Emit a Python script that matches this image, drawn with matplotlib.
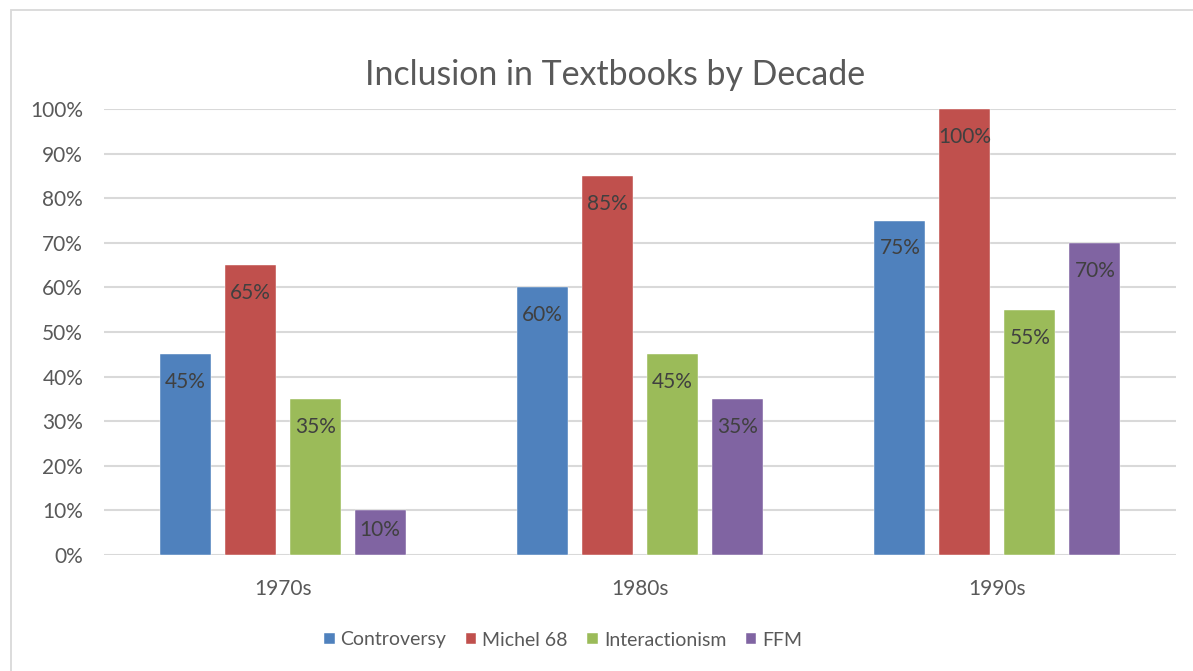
import matplotlib
matplotlib.use("Agg")
import matplotlib.pyplot as plt
from matplotlib.patches import Rectangle
import numpy as np

categories = ["1970s", "1980s", "1990s"]
series_names = ["Controversy", "Michel 68", "Interactionism", "FFM"]
controversy = [0.45, 0.60, 0.75]
michel68 = [0.65, 0.85, 1.00]
interactionism = [0.35, 0.45, 0.55]
ffm = [0.10, 0.35, 0.70]
yticks = [0, 0.1, 0.2, 0.3, 0.4, 0.5, 0.6, 0.7, 0.8, 0.9, 1.0]
ytick_labels = ["0%", "10%", "20%", "30%", "40%", "50%", "60%", "70%", "80%", "90%", "100%"]

colors = ["#4F81BD", "#C0504D", "#9BBB59", "#8064A2"]
series = [controversy, michel68, interactionism, ffm]

plt.rcParams['font.family'] = ['Lato', 'DejaVu Sans']

W, H = 1193, 671
fig = plt.figure(figsize=(W / 100, H / 100), dpi=100)
ax = fig.add_axes([104 / W, 1 - 555 / H, (1176 - 104) / W, (555 - 109) / H])

# figure border
fig.patches.append(Rectangle((11 / W, -0.1), 1.2, 1 - 10 / H + 0.1, transform=fig.transFigure,
                             fill=False, edgecolor="#D9D9D9", linewidth=1.3, zorder=0))

x = np.arange(len(categories))
bw = 51 / 357.3
step = 65 / 357.3
offsets = (np.arange(4) - 1.5) * step

axis_h_px = 555 - 109
for i, (name, vals, c) in enumerate(zip(series_names, series, colors)):
    bars = ax.bar(x + offsets[i], vals, width=bw, color=c, label=name, zorder=3,
                  edgecolor="white", linewidth=0.3)
    for xi, v in zip(x + offsets[i], vals):
        off_px = min(28, 0.45 * v * axis_h_px)
        ax.annotate(f"{int(round(v * 100))}%", (xi, v), xytext=(0, -off_px * 72 / 100),
                    textcoords="offset points", ha="center", va="center",
                    fontsize=15, color="#404040", zorder=4)

ax.set_xlim(-0.5, 2.5)
ax.set_ylim(0, 1.0)
ax.set_yticks(yticks)
ax.set_yticklabels(ytick_labels)
ax.set_xticks(x)
ax.set_xticklabels(categories)
ax.tick_params(axis="both", length=0, labelsize=15, labelcolor="#595959")
ax.tick_params(axis="y", pad=15)
ax.tick_params(axis="x", pad=17)
ax.grid(axis="y", color="#D9D9D9", linewidth=1.5, zorder=0)
ax.set_axisbelow(True)
for s in ax.spines.values():
    s.set_visible(False)

fig.text(615 / W, 1 - 75 / H, "Inclusion in Textbooks by Decade", ha="center", va="center",
         fontsize=24.4, color="#595959")

leg = fig.legend(loc="center", bbox_to_anchor=(563 / W, 1 - 640 / H), ncol=4, frameon=False,
                 fontsize=14, handlelength=0.55, handleheight=0.55, handletextpad=0.3,
                 columnspacing=1.0, labelcolor="#595959", borderpad=0, borderaxespad=0)

fig.savefig("out.png", dpi=100)
